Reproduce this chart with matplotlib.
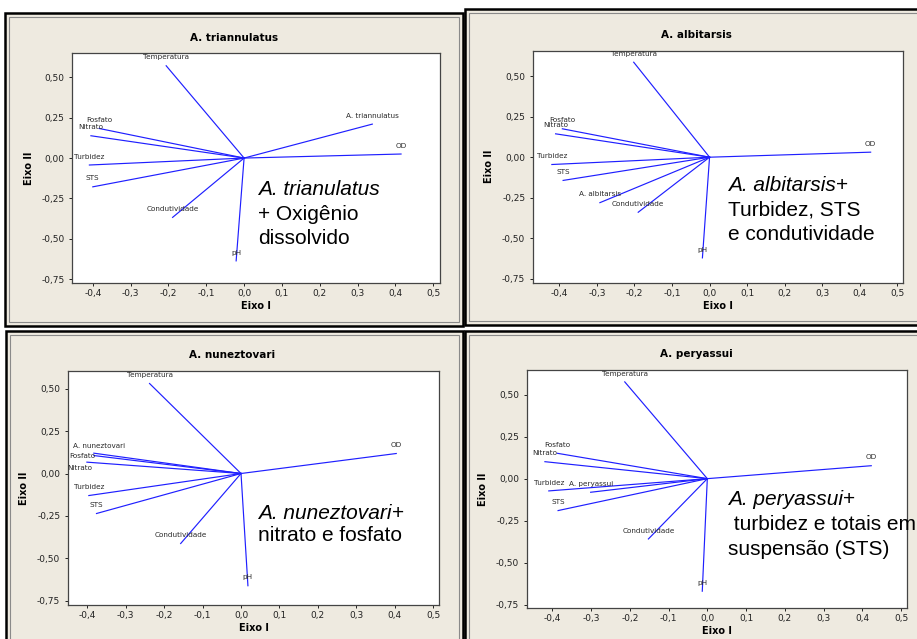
import matplotlib
matplotlib.use("Agg")
import matplotlib.pyplot as plt
from matplotlib.patches import Rectangle
from matplotlib.transforms import offset_copy

# biplot vectors (Eixo I, Eixo II)
p1_names = ["Temperatura", "A. triannulatus", "OD", "Fosfato", "Nitrato",
            "Turbidez", "STS", "Condutividade", "pH"]
p1_x = [-0.206, 0.339, 0.415, -0.383, -0.405, -0.409, -0.400, -0.189, -0.021]
p1_y = [0.571, 0.210, 0.025, 0.183, 0.138, -0.043, -0.178, -0.367, -0.636]

p2_names = ["Temperatura", "OD", "Fosfato", "Nitrato", "Turbidez", "STS",
            "A. albitarsis", "Condutividade", "pH"]
p2_x = [-0.202, 0.429, -0.392, -0.410, -0.420, -0.390, -0.292, -0.190, -0.019]
p2_y = [0.585, 0.031, 0.175, 0.144, -0.045, -0.143, -0.280, -0.339, -0.620]

p3_names = ["Temperatura", "OD", "A. nuneztovari", "Fosfato", "Nitrato",
            "Turbidez", "STS", "Condutividade", "pH"]
p3_x = [-0.238, 0.404, -0.383, -0.383, -0.401, -0.396, -0.376, -0.157, 0.018]
p3_y = [0.531, 0.118, 0.120, 0.106, 0.067, -0.130, -0.236, -0.413, -0.662]

p4_names = ["Temperatura", "OD", "Fosfato", "Nitrato", "Turbidez",
            "A. peryassui", "STS", "Condutividade", "pH"]
p4_x = [-0.213, 0.423, -0.387, -0.419, -0.409, -0.301, -0.385, -0.152, -0.013]
p4_y = [0.576, 0.077, 0.151, 0.101, -0.073, -0.081, -0.190, -0.359, -0.670]

titles = ["A. triannulatus", "A. albitarsis", "A. nuneztovari", "A. peryassui"]

# (parte em itálico, resto da primeira linha, linhas seguintes)
notes = [
    ("A. trianulatus", "", ["+ Oxigênio", "dissolvido"]),
    ("A. albitarsis", "+", ["Turbidez, STS", "e condutividade"]),
    ("A. nuneztovari", "+", ["nitrato e fosfato"]),
    ("A. peryassui", "+", [" turbidez e totais em", "suspensão (STS)"]),
]

x_ticks = [-0.4, -0.3, -0.2, -0.1, 0.0, 0.1, 0.2, 0.3, 0.4, 0.5]
x_tick_labels = ["-0,4", "-0,3", "-0,2", "-0,1", "0,0", "0,1", "0,2", "0,3", "0,4", "0,5"]
y_ticks = [-0.75, -0.50, -0.25, 0.0, 0.25, 0.50]
y_tick_labels = ["-0,75", "-0,50", "-0,25", "0,00", "0,25", "0,50"]

W, H = 917, 639
BEIGE = "#EEEAE0"
LINE = "#1f1fff"

fig = plt.figure(figsize=(W / 100, H / 100), dpi=100, facecolor="white")
renderer = fig.canvas.get_renderer()


def fx(x):
    return x / W


def fy(y):
    return 1 - y / H


def frame(x0, y0, x1, y1):
    # janela do Minitab: fundo bege, borda preta e linha cinza interna
    fig.patches.append(Rectangle((fx(x0), fy(y1)), (x1 - x0) / W, (y1 - y0) / H,
                                 transform=fig.transFigure, facecolor=BEIGE,
                                 edgecolor="black", lw=1.8, zorder=-5))
    fig.patches.append(Rectangle((fx(x0 + 4), fy(y1 - 4)), (x1 - x0 - 8) / W, (y1 - y0 - 8) / H,
                                 transform=fig.transFigure, facecolor="none",
                                 edgecolor="#8a8a8a", lw=0.8, zorder=-4))


def panel(box, xlim, ylim, names, xs, ys, shifts=None):
    x0, y0, x1, y1 = box
    ax = fig.add_axes([fx(x0), fy(y1), (x1 - x0) / W, (y1 - y0) / H])
    ax.set_facecolor("white")
    for n, x, y in zip(names, xs, ys):
        ax.plot([0, x], [0, y], color=LINE, lw=0.85)
        dx, dy = (0, 6)
        if shifts and n in shifts:
            dx, dy = shifts[n]
        ax.annotate(n, (x, y), xytext=(dx, dy), textcoords="offset points",
                    ha="center", va="center", fontsize=5.2, color="#2a2a2a")
    ax.set_xlim(*xlim)
    ax.set_ylim(*ylim)
    ax.set_xticks(x_ticks)
    ax.set_xticklabels(x_tick_labels)
    ax.set_yticks(y_ticks)
    ax.set_yticklabels(y_tick_labels)
    ax.tick_params(axis="x", length=2.2, width=0.7, pad=2, labelsize=6.5, colors="#222222")
    ax.tick_params(axis="y", length=2.2, width=0.7, pad=3.2, labelsize=6.5, colors="#222222")
    for s in ax.spines.values():
        s.set_color("#444444")
        s.set_linewidth(0.9)
    ax.set_xlabel("Eixo I", fontsize=7, fontweight="bold", labelpad=2.3)
    ax.set_ylabel("Eixo II", fontsize=7, fontweight="bold", labelpad=5.5)
    return ax


def note(x, baselines, text):
    ital, tail, rest = text
    t = fig.text(fx(x), fy(baselines[0]), ital, fontsize=15, family="Liberation Sans",
                 style="italic", ha="left", va="baseline")
    if tail:
        w = t.get_window_extent(renderer=renderer).width
        fig.text(fx(x), fy(baselines[0]), tail, fontsize=15, family="Liberation Sans",
                 ha="left", va="baseline",
                 transform=offset_copy(fig.transFigure, fig=fig, x=w * 72 / 100, units="points"))
    for b, s in zip(baselines[1:], rest):
        fig.text(fx(x), fy(b), s, fontsize=15, family="Liberation Sans",
                 ha="left", va="baseline")


# painel 1
frame(5, 13, 463, 326)
panel((72, 53, 440, 283), (-0.455, 0.518), (-0.773, 0.65), p1_names, p1_x, p1_y)
fig.text(fx(234), fy(37.7), titles[0], ha="center", va="center", fontsize=7.5, fontweight="bold")
note(258.3, [195, 220, 244], notes[0])

# painel 2
frame(465, 9, 930, 325)
panel((532.7, 50.7, 903.3, 282.7), (-0.471, 0.516), (-0.773, 0.656), p2_names, p2_x, p2_y)
fig.text(fx(696.7), fy(35), titles[1], ha="center", va="center", fontsize=7.5, fontweight="bold")
note(728.3, [190.7, 215, 240], notes[1])

# painel 3
frame(6, 331, 463, 650)
p3_shift = {"A. nuneztovari": (4, 5), "Fosfato": (-8.4, 0), "Nitrato": (-4.8, -4.3)}
panel((67.7, 371.3, 439.3, 604.7), (-0.451, 0.516), (-0.774, 0.603), p3_names, p3_x, p3_y, p3_shift)
fig.text(fx(232.5), fy(354.7), titles[2], ha="center", va="center", fontsize=7.5, fontweight="bold")
note(258.3, [518.7, 541.3], notes[2])

# painel 4
frame(465, 331, 930, 650)
panel((526.7, 370.3, 907.3, 608), (-0.466, 0.516), (-0.77, 0.645), p4_names, p4_x, p4_y)
fig.text(fx(696.7), fy(354), titles[3], ha="center", va="center", fontsize=7.5, fontweight="bold")
note(728.3, [504.7, 529.7, 554.7], notes[3])

fig.savefig("out.png", dpi=100, facecolor="white")
